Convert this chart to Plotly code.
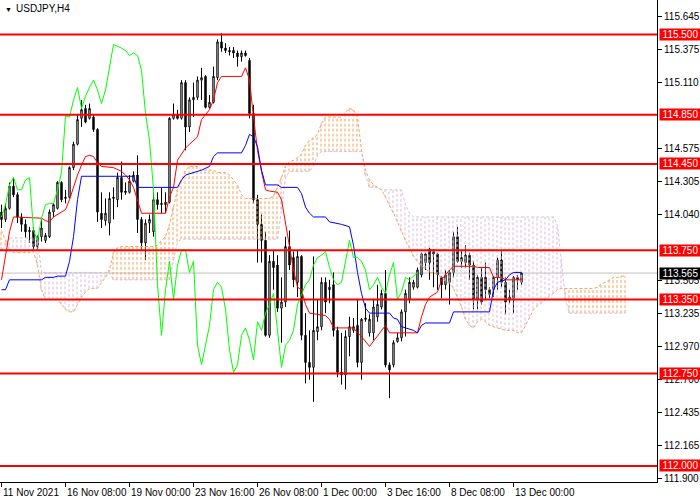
import plotly.graph_objects as go

FONT = "Liberation Sans"

# --- USDJPY H4 candles (bar index 0 = 11 Nov 2021 16:00) ---
bar_open = [
    114.06, 114.00, 114.09, 114.27, 114.20, 114.02, 113.96, 113.90, 113.91, 113.78,
    113.86, 113.83, 113.86, 114.06, 114.09, 114.30, 114.17, 114.18, 114.42, 114.61,
    114.82, 114.90, 114.82, 114.83, 114.73, 114.05, 113.99, 113.97, 114.17, 114.16,
    114.34, 114.23, 114.22, 114.31, 114.36, 114.00, 113.81, 113.97, 113.90, 114.16,
    114.12, 114.12, 114.14, 114.82, 114.85, 114.82, 115.11, 114.75, 114.97, 114.99,
    115.13, 115.16, 114.91, 114.95, 115.15, 115.44, 115.39, 115.37, 115.37, 115.35,
    115.32, 115.35, 115.29, 114.86, 114.16, 113.96, 113.83, 113.06, 113.66, 113.63,
    113.28, 113.33, 113.78, 113.69, 113.49, 113.70, 113.06, 112.84, 112.80, 113.09,
    113.13, 113.49, 113.43, 113.47, 113.10, 112.76, 112.74, 113.05, 113.10, 113.14,
    112.84, 113.20, 113.08, 113.08, 113.21, 113.29, 113.40, 112.82, 112.82, 113.01,
    113.04, 113.25, 113.35, 113.45, 113.45, 113.55, 113.65, 113.76, 113.72, 113.72,
    113.53, 113.47, 113.49, 113.57, 113.86, 113.66, 113.65, 113.71, 113.63, 113.35,
    113.53, 113.53, 113.43, 113.43, 113.53, 113.67, 113.49, 113.37, 113.36, 113.51,
    113.49,
]
bar_close = [
    114.00, 114.09, 114.27, 114.20, 114.02, 113.96, 113.90, 113.91, 113.78, 113.86,
    113.93, 113.87, 114.06, 114.12, 114.30, 114.16, 114.18, 114.42, 114.61, 114.81,
    114.89, 114.79, 114.90, 114.73, 114.06, 114.00, 114.05, 114.17, 114.18, 114.34,
    114.22, 114.22, 114.31, 114.36, 114.00, 113.81, 113.97, 114.00, 114.16, 114.12,
    114.13, 114.14, 114.82, 114.85, 114.82, 115.11, 114.75, 114.97, 114.99, 115.13,
    115.15, 114.91, 114.95, 115.16, 115.44, 115.39, 115.37, 115.36, 115.35, 115.32,
    115.35, 115.33, 114.86, 114.16, 113.96, 113.83, 113.06, 113.66, 113.61, 113.28,
    113.33, 113.78, 113.63, 113.51, 113.70, 113.06, 112.84, 112.80, 113.10, 113.13,
    113.49, 113.33, 113.45, 113.10, 112.76, 112.74, 113.05, 113.13, 113.13, 112.84,
    113.19, 113.19, 113.19, 113.29, 113.31, 113.40, 112.82, 112.78, 113.00, 113.04,
    113.25, 113.40, 113.49, 113.49, 113.59, 113.72, 113.72, 113.65, 113.74, 113.55,
    113.47, 113.55, 113.57, 113.86, 113.66, 113.69, 113.71, 113.63, 113.35, 113.53,
    113.33, 113.43, 113.39, 113.53, 113.67, 113.49, 113.33, 113.35, 113.53, 113.53,
    113.565,
]
bar_high = [
    114.12, 114.13, 114.30, 114.34, 114.22, 114.05, 114.00, 113.94, 113.94, 113.87,
    114.00, 113.89, 114.08, 114.13, 114.31, 114.31, 114.24, 114.43, 114.63, 114.85,
    114.97, 114.93, 114.94, 114.85, 114.74, 114.22, 114.17, 114.22, 114.26, 114.38,
    114.47, 114.30, 114.36, 114.39, 114.52, 114.02, 114.00, 114.04, 114.22, 114.22,
    114.26, 114.22, 114.83, 114.94, 114.89, 115.13, 115.13, 114.99, 115.11, 115.16,
    115.23, 115.17, 115.01, 115.24, 115.46, 115.51, 115.43, 115.40, 115.40, 115.37,
    115.37, 115.37, 115.31, 114.93, 114.20, 114.04, 113.90, 113.71, 113.75, 113.71,
    113.53, 113.86, 113.91, 113.74, 113.75, 113.71, 113.24, 113.10, 113.70, 113.35,
    113.53, 113.53, 113.51, 113.57, 113.13, 113.08, 113.10, 113.21, 113.20, 113.35,
    113.20, 113.32, 113.23, 113.35, 113.47, 113.43, 113.59, 112.84, 113.02, 113.08,
    113.27, 113.43, 113.53, 113.51, 113.61, 113.73, 113.73, 113.77, 113.76, 113.73,
    113.54, 113.59, 113.59, 113.90, 113.94, 113.75, 113.79, 113.73, 113.66, 113.55,
    113.61, 113.65, 113.45, 113.54, 113.69, 113.75, 113.53, 113.43, 113.54, 113.55,
    113.57,
]
bar_low = [
    113.93, 113.98, 114.08, 114.18, 113.97, 113.90, 113.85, 113.81, 113.75, 113.75,
    113.82, 113.81, 113.85, 114.02, 114.08, 114.14, 114.13, 114.17, 114.40, 114.60,
    114.75, 114.78, 114.81, 114.71, 113.98, 113.93, 113.95, 113.87, 114.00, 114.10,
    114.16, 114.20, 114.21, 114.30, 113.89, 113.75, 113.67, 113.89, 113.86, 114.08,
    114.05, 114.05, 114.13, 114.81, 114.81, 114.81, 114.56, 114.71, 114.83, 114.97,
    114.97, 114.90, 114.90, 114.94, 115.13, 115.36, 115.35, 115.33, 115.31, 115.24,
    115.28, 115.32, 114.82, 114.13, 113.65, 113.65, 113.05, 113.04, 113.43, 113.25,
    113.00, 113.29, 113.59, 113.45, 113.37, 113.02, 112.67, 112.70, 112.52, 113.02,
    113.10, 113.24, 113.32, 113.05, 112.72, 112.66, 112.62, 112.89, 113.08, 112.80,
    112.70, 113.17, 113.05, 113.02, 113.17, 113.27, 112.80, 112.55, 112.80, 113.00,
    113.01, 113.05, 113.32, 113.43, 113.44, 113.53, 113.59, 113.51, 113.45, 113.43,
    113.36, 113.43, 113.31, 113.53, 113.65, 113.61, 113.61, 113.51, 113.27, 113.27,
    113.31, 113.35, 113.36, 113.37, 113.43, 113.45, 113.23, 113.32, 113.24, 113.43,
    113.47,
]

# --- Ichimoku lines, vertices (bar index, price) ---
tenkan_bar = [0, 1, 2, 3, 10, 11, 12, 13, 14, 16, 17, 18, 19, 20, 21, 22, 23, 24, 25, 28,
              30, 31, 32, 33, 34, 35, 41, 42, 43, 44, 46, 48, 49, 50, 52, 53, 54, 55, 60, 61,
              62, 63, 64, 65, 66, 67, 69, 70, 71, 72, 73, 74, 75, 76, 77, 81, 82, 83, 88, 89,
              90, 92, 94, 95, 96, 97, 104, 105, 106, 107, 109, 110, 111, 112, 113, 118, 119, 122, 123, 125,
              126, 130]
tenkan_val = [113.51, 113.69, 113.90, 114.02, 114.01, 113.99, 113.98, 114.02, 114.04, 114.08,
              114.16, 114.26, 114.36, 114.44, 114.51, 114.52, 114.51, 114.46, 114.43, 114.42,
              114.39, 114.36, 114.32, 114.26, 114.16, 114.05, 114.05, 114.18, 114.26, 114.48,
              114.58, 114.64, 114.67, 114.81, 114.89, 114.97, 115.11, 115.16, 115.16, 115.23,
              115.13, 114.83, 114.56, 114.39, 114.24, 114.23, 114.22, 114.16, 113.98, 113.79,
              113.59, 113.45, 113.43, 113.31, 113.24, 113.22, 113.19, 113.12, 113.12, 113.08,
              113.05, 112.97, 113.06, 113.10, 113.14, 113.08, 113.08, 113.21, 113.31, 113.37,
              113.41, 113.51, 113.55, 113.59, 113.62, 113.62, 113.61, 113.61, 113.53, 113.53,
              113.51, 113.51]

kijun_bar = [0, 1, 2, 10, 11, 13, 14, 16, 17, 18, 19, 20, 33, 34, 44, 45, 46, 49, 50, 52,
             53, 54, 60, 61, 62, 63, 64, 65, 66, 69, 70, 74, 75, 76, 77, 78, 81, 82, 85, 87,
             88, 89, 90, 91, 92, 97, 98, 99, 100, 103, 104, 105, 106, 112, 113, 122, 123, 124, 126, 127,
             128, 130]
kijun_val = [113.43, 113.43, 113.51, 113.51, 113.53, 113.53, 113.54, 113.54, 113.66, 113.86,
             114.16, 114.35, 114.35, 114.26, 114.26, 114.32, 114.36, 114.39, 114.40, 114.43,
             114.51, 114.54, 114.54, 114.60, 114.69, 114.67, 114.59, 114.40, 114.28, 114.28,
             114.26, 114.26, 114.21, 114.10, 114.05, 114.02, 114.02, 113.98, 113.96, 113.94,
             113.79, 113.57, 113.40, 113.28, 113.24, 113.24, 113.20, 113.19, 113.13, 113.10,
             113.08, 113.14, 113.16, 113.16, 113.25, 113.25, 113.43, 113.49, 113.51, 113.55,
             113.57, 113.57]

chikou_bar = list(range(0, 29)) + list(range(30, 105))
chikou_val = [114.02, 114.12, 114.28, 114.34, 114.24, 114.24, 114.32, 114.34, 113.91, 113.83,
              114.01, 114.12, 114.13, 114.13, 114.24, 114.38, 114.84, 114.83, 114.97, 115.07,
              114.90, 115.00, 115.07, 115.13, 115.05, 114.94, 115.05, 115.23, 115.42,
              115.39, 115.37, 115.33, 115.35, 115.33, 115.21, 114.86, 114.64, 114.24, 113.47,
              113.06, 113.43, 113.66, 113.35, 113.63, 113.75, 113.75, 113.57, 113.66, 112.98,
              112.82, 112.98, 113.14, 113.43, 113.49, 113.45, 113.27, 112.94, 112.76, 112.82,
              113.06, 113.12, 113.02, 112.86, 113.17, 113.10, 113.24, 113.31, 113.40, 113.10,
              112.80, 112.98, 113.02, 113.10, 113.31, 113.39, 113.47, 113.51, 113.63, 113.69,
              113.71, 113.74, 113.61, 113.51, 113.47, 113.49, 113.66, 113.83, 113.69, 113.69,
              113.66, 113.59, 113.43, 113.47, 113.53, 113.45, 113.40, 113.55, 113.65, 113.35,
              113.41, 113.53, 113.51, 113.54, 113.57]

# Senkou spans, one value per bar (bars 131..156 are the forward cloud)
span_a = [
    113.91, 113.83, 113.75, 113.73, 113.73, 113.73, 113.73, 113.73, 113.74, 113.63,
    113.43, 113.35, 113.35, 113.35, 113.35, 113.31, 113.27, 113.25, 113.25, 113.31,
    113.37, 113.41, 113.44, 113.44, 113.44, 113.49, 113.53, 113.59, 113.73, 113.77,
    113.78, 113.78, 113.78, 113.78, 113.78, 113.78, 113.78, 113.78, 113.78, 113.79,
    113.83, 113.86, 113.96, 114.10, 114.24, 114.32, 114.40, 114.43, 114.43, 114.43,
    114.40, 114.40, 114.40, 114.40, 114.38, 114.38, 114.38, 114.36, 114.32, 114.28,
    114.20, 114.17, 114.17, 114.17, 114.17, 114.17, 114.17, 114.17, 114.19, 114.26,
    114.34, 114.43, 114.47, 114.48, 114.50, 114.53, 114.60, 114.64, 114.66, 114.69,
    114.78, 114.83, 114.83, 114.83, 114.83, 114.83, 114.87, 114.90, 114.89, 114.83,
    114.56, 114.40, 114.32, 114.28, 114.26, 114.24, 114.18, 114.12, 114.05, 113.98,
    113.90, 113.83, 113.77, 113.70, 113.66, 113.62, 113.60, 113.57, 113.57, 113.55,
    113.53, 113.50, 113.48, 113.44, 113.37, 113.29, 113.19, 113.14, 113.12, 113.17,
    113.19, 113.17, 113.14, 113.13, 113.12, 113.11, 113.10, 113.10, 113.10, 113.08,
    113.08, 113.14, 113.21, 113.27, 113.30, 113.32, 113.35, 113.38, 113.40, 113.43,
    113.44, 113.44, 113.44, 113.44, 113.44, 113.44, 113.44, 113.44, 113.44, 113.45,
    113.48, 113.49, 113.51, 113.53, 113.53, 113.54, 113.54,
]
span_b = [
    113.75, 113.79, 113.85, 113.85, 113.85, 113.85, 113.85, 113.85, 113.85, 113.85,
    113.57, 113.57, 113.57, 113.57, 113.57, 113.57, 113.57, 113.57, 113.57, 113.57,
    113.57, 113.57, 113.57, 113.57, 113.57, 113.57, 113.57, 113.57, 113.51, 113.51,
    113.51, 113.51, 113.51, 113.51, 113.51, 113.51, 113.51, 113.51, 113.51, 113.51,
    113.51, 113.51, 113.51, 113.67, 113.82, 113.84, 113.84, 113.84, 113.84, 113.84,
    113.84, 113.84, 113.84, 113.84, 113.84, 113.84, 113.84, 113.84, 113.84, 113.84,
    113.84, 113.84, 113.84, 113.84, 113.84, 113.84, 113.84, 113.84, 113.84, 113.84,
    114.08, 114.34, 114.39, 114.39, 114.39, 114.39, 114.39, 114.39, 114.44, 114.52,
    114.55, 114.55, 114.55, 114.55, 114.55, 114.55, 114.55, 114.55, 114.55, 114.55,
    114.55, 114.36, 114.26, 114.26, 114.26, 114.24, 114.24, 114.24, 114.24, 114.24,
    114.24, 114.12, 114.05, 114.02, 114.02, 114.02, 114.02, 114.02, 114.02, 114.02,
    114.02, 114.02, 114.02, 114.02, 114.02, 114.02, 114.02, 114.02, 114.02, 114.02,
    114.02, 114.02, 114.02, 114.02, 114.02, 114.02, 114.02, 114.02, 114.02, 114.02,
    114.02, 114.02, 114.02, 114.02, 114.02, 114.02, 114.02, 114.02, 114.02, 113.95,
    113.67, 113.35, 113.24, 113.24, 113.24, 113.24, 113.24, 113.24, 113.24, 113.24,
    113.24, 113.24, 113.24, 113.24, 113.24, 113.24, 113.24,
]

# --- levels and axis labels ---
symbol = "USDJPY,H4"
levels = [115.500, 114.850, 114.450, 113.750, 113.350, 112.750, 112.000]
last_price = 113.565
price_ticks = [115.645, 115.375, 115.110, 114.575, 114.305, 114.040, 113.505,
               113.235, 112.970, 112.700, 112.435, 112.165, 111.900]
date_bars = [0, 16, 32, 48, 64, 80, 96, 112, 128]
date_labels = ["11 Nov 2021", "16 Nov 08:00", "19 Nov 00:00", "23 Nov 16:00",
               "26 Nov 08:00", "1 Dec 00:00", "3 Dec 16:00", "8 Dec 08:00", "13 Dec 00:00"]

fig = go.Figure()

# cloud hatch: a dotted vertical stroke per bar between the two spans.
# nudged half a pixel (1/8 bar) so the thin strokes keep their colour on screen
HATCH_NUDGE = -0.125
up_x, up_y, dn_x, dn_y = [], [], [], []
for i, (a, b) in enumerate(zip(span_a, span_b)):
    xi = i + HATCH_NUDGE
    if a >= b:
        up_x += [xi, xi, None]
        up_y += [b, a, None]
    else:
        dn_x += [xi, xi, None]
        dn_y += [a, b, None]

fig.add_trace(go.Scatter(x=up_x, y=up_y, mode="lines", hoverinfo="skip",
                         line=dict(color="#F4A460", width=1, dash="3px,2px")))
fig.add_trace(go.Scatter(x=dn_x, y=dn_y, mode="lines", hoverinfo="skip",
                         line=dict(color="#D8BFD8", width=1, dash="3px,2px")))
fig.add_trace(go.Scatter(x=list(range(len(span_a))), y=span_a, mode="lines", hoverinfo="skip",
                         line=dict(color="#F4A460", width=1, dash="3px,2px")))
fig.add_trace(go.Scatter(x=list(range(len(span_b))), y=span_b, mode="lines", hoverinfo="skip",
                         line=dict(color="#D8BFD8", width=1, dash="3px,2px")))

fig.add_trace(go.Candlestick(
    x=list(range(len(bar_open))), open=bar_open, high=bar_high, low=bar_low, close=bar_close,
    increasing=dict(line=dict(color="black", width=1), fillcolor="white"),
    decreasing=dict(line=dict(color="black", width=1), fillcolor="black"),
    whiskerwidth=0, hoverinfo="skip",
))

fig.add_trace(go.Scatter(x=tenkan_bar, y=tenkan_val, mode="lines", hoverinfo="skip",
                         line=dict(color="#FF0000", width=1)))
fig.add_trace(go.Scatter(x=kijun_bar, y=kijun_val, mode="lines", hoverinfo="skip",
                         line=dict(color="#0000FF", width=1)))
fig.add_trace(go.Scatter(x=chikou_bar, y=chikou_val, mode="lines", hoverinfo="skip",
                         line=dict(color="#00FF00", width=1)))

shapes = [dict(type="line", xref="paper", x0=0, x1=1, y0=last_price, y1=last_price,
               line=dict(color="#C0C0C0", width=1), layer="below")]
for lv in levels:
    shapes.append(dict(type="line", xref="paper", x0=0, x1=1, y0=lv, y1=lv,
                       line=dict(color="#FF0000", width=2), layer="above"))

annotations = []
for lv in levels:
    annotations.append(dict(x=1, xref="paper", y=lv, yref="y", xanchor="left", yanchor="middle",
                            xshift=2, text=f"{lv:.3f}", showarrow=False, bgcolor="#FF0000",
                            width=41, height=11, borderpad=0,
                            font=dict(family=FONT, size=10, color="white")))
annotations.append(dict(x=1, xref="paper", y=last_price, yref="y", xanchor="left", yanchor="middle",
                        xshift=2, text=f"{last_price:.3f}", showarrow=False, bgcolor="black",
                        width=41, height=11, borderpad=0,
                        font=dict(family=FONT, size=10, color="white")))
for b, lab in zip(date_bars, date_labels):
    annotations.append(dict(x=b, xref="x", y=0, yref="paper", xanchor="left", yanchor="top",
                            xshift=-1, yshift=-3, text=lab, showarrow=False,
                            font=dict(family=FONT, size=10, color="black")))
annotations.append(dict(x=0, xref="paper", y=1, yref="paper", xanchor="left", yanchor="top",
                        xshift=3, yshift=-4, text="▼", showarrow=False,
                        font=dict(family=FONT, size=7, color="black")))
annotations.append(dict(x=0, xref="paper", y=1, yref="paper", xanchor="left", yanchor="top",
                        xshift=14, yshift=-1, text=symbol, showarrow=False,
                        font=dict(family=FONT, size=10, color="black")))

fig.update_layout(
    width=700, height=500,
    margin=dict(l=0, r=43, t=0, b=18),
    paper_bgcolor="white", plot_bgcolor="white",
    showlegend=False,
    boxgap=0.5,  # 2px body + 1px outline = MT4's 3px candle at 4px per bar
    shapes=shapes, annotations=annotations,
    xaxis=dict(range=[-0.375, 163.875], showgrid=False, zeroline=False,
               showline=True, linecolor="black", linewidth=1,
               ticks="outside", ticklen=4, tickcolor="black",
               tickvals=date_bars, showticklabels=False,
               rangeslider=dict(visible=False), fixedrange=True),
    yaxis=dict(range=[111.870, 115.780], side="right", showgrid=False, zeroline=False,
               showline=True, linecolor="black", linewidth=1,
               ticks="outside", ticklen=4, tickcolor="black",
               tickvals=price_ticks, ticktext=[f"{v:.3f}" for v in price_ticks],
               tickfont=dict(family=FONT, size=10, color="black"), fixedrange=True),
)

# the page's default body margin would push the 700x500 figure off the window
fig.write_html("out.html", config={"displayModeBar": False},
               post_script="document.body.style.margin='0px';")
